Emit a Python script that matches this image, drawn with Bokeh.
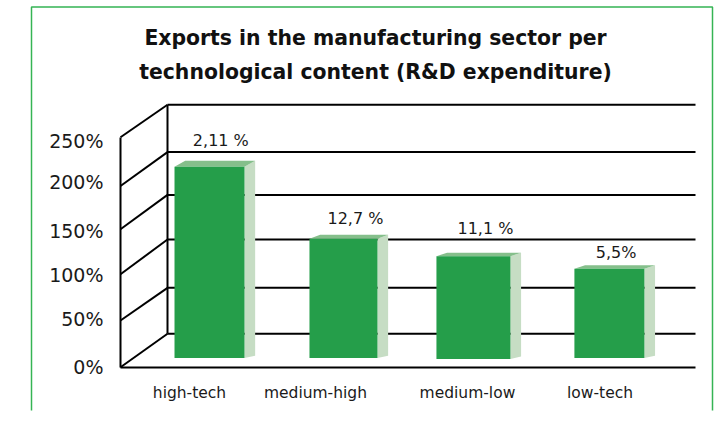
from bokeh.plotting import figure
from bokeh.models import FixedTicker, LinearAxis, Label, Range1d
from bokeh.core.properties import value
from bokeh.embed import file_html
from bokeh.resources import INLINE

title_lines = ["Exports in the manufacturing sector per", "technological content (R&D expenditure)"]
categories = ["high-tech", "medium-high", "medium-low", "low-tech"]
category_label_pos = [-0.15, 0.795, 1.935, 2.93]
bar_pos = [0.0, 1.005, 1.98, 3.0]
bar_width = [0.525, 0.51, 0.555, 0.525]
bar_top = [218, 139.6, 120.7, 107]
bar_base = [10, 10, 9, 10]
bar_roof = [6.5, 4.5, 3.7, 3.7]
bar_labels = ["2,11 %", "12,7 %", "11,1 %", "5,5%"]
bar_label_pos = [0.085, 1.095, 2.07, 3.05]
bar_label_y = [246.5, 161.5, 151, 125]
tick_labels = ["0%", "50%", "100%", "150%", "200%", "250%"]
tick_label_pos = [0, 52, 100, 148, 201, 246]
front_grid = [0, 50.8, 101, 150, 197, 250]
back_grid = [0, 50, 102.5, 151, 197.5, 249]
back_shift = 36.3

GREEN = "#259e4a"
SIDE = "#c6ddc4"
ROOF = "#85bf8b"
BORDER = "#35b454"
FONT = "DejaVu Sans"

W, H = 721, 438
PX_X = 133.3
PX_Y = 0.92
x0 = 209
y0 = 366.7
def ux(px): return (px - x0) / PX_X
def uy(py): return (y0 - py) / PX_Y

p = figure(width=W, height=H, output_backend="svg", toolbar_location=None,
           x_range=Range1d(ux(0), ux(W)), y_range=Range1d(uy(H), uy(0)),
           x_axis_location=None, y_axis_location=None,
           min_border=0, min_border_left=0, min_border_right=0, min_border_top=0, min_border_bottom=0,
           outline_line_color=None, background_fill_color="white", border_fill_color="white")
p.grid.visible = False

# green frame
left, right, top, bottom = ux(31), ux(712), uy(6.5), uy(410)
p.line([left, left, right, right], [bottom, top, top, bottom], line_color=BORDER, line_width=1.5)

# back wall and floor/gridlines
wx0, wx1, fx0 = ux(167), ux(695), ux(120)
for f, b in zip(front_grid, back_grid):
    p.line([fx0, wx0], [f, b + back_shift], line_color="black", line_width=2)
    p.line([wx0, wx1], [b + back_shift, b + back_shift], line_color="black", line_width=2)
p.line([wx0, wx0], [back_shift, back_grid[-1] + back_shift], line_color="black", line_width=2)

# bars
dx = 0.08
for c, w, t, b, r in zip(bar_pos, bar_width, bar_top, bar_base, bar_roof):
    l_, r_ = c - w / 2, c + w / 2
    p.patch([r_, r_ + dx, r_ + dx, r_], [b, b + 2.5, t + r, t], fill_color=SIDE, line_color=None)
    p.patch([l_, l_ + dx, r_ + dx, r_], [t, t + r, t + r, t], fill_color=ROOF, line_color=None)
p.quad(left=[c - w / 2 for c, w in zip(bar_pos, bar_width)],
       right=[c + w / 2 for c, w in zip(bar_pos, bar_width)],
       bottom=bar_base, top=bar_top, fill_color=GREEN, line_color=None)

p.text(x=bar_label_pos, y=bar_label_y, text=bar_labels, text_font=value(FONT), text_font_size="16px",
       text_align="center", text_baseline="middle", text_color="#1a1a1a")

# axes
yax = LinearAxis(fixed_location=ux(120), ticker=FixedTicker(ticks=tick_label_pos),
                 major_label_overrides={k: v for k, v in zip(tick_label_pos, tick_labels)},
                 bounds=(0, 250), axis_line_color="black", axis_line_width=2,
                 major_tick_line_color=None, minor_tick_line_color=None,
                 major_label_text_font=FONT, major_label_text_font_size="19px",
                 major_label_text_color="#1a1a1a", major_label_standoff=11)
p.add_layout(yax, "left")
xax = LinearAxis(fixed_location=0, ticker=FixedTicker(ticks=category_label_pos),
                 major_label_overrides={k: v for k, v in zip(category_label_pos, categories)},
                 bounds=(ux(120), ux(695)), axis_line_color="black", axis_line_width=2,
                 major_tick_line_color=None, minor_tick_line_color=None,
                 major_label_text_font=FONT, major_label_text_font_size="15.5px",
                 major_label_text_color="#1a1a1a", major_label_standoff=11)
p.add_layout(xax, "below")

# title
for line, py in zip(title_lines, [37.5, 71.5]):
    p.add_layout(Label(x=ux(375), y=uy(py), text=line, text_font=FONT, text_font_style="bold",
                       text_font_size="20.4px", text_align="center", text_baseline="middle",
                       text_color="#111111"))

open("out.html", "w").write(file_html(p, INLINE))
